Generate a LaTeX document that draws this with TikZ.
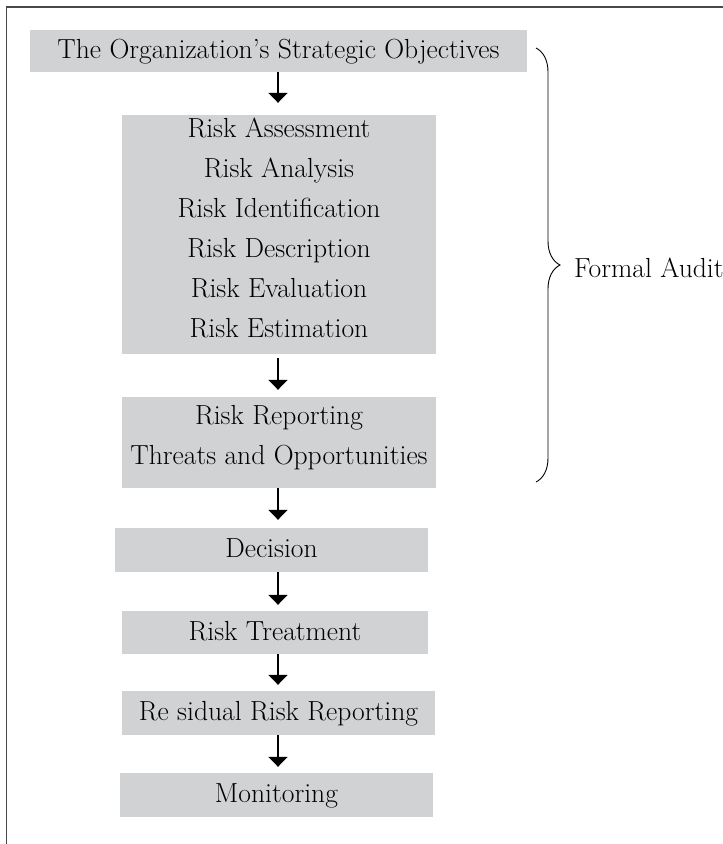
\documentclass[tikz,border=0pt]{standalone}
\usetikzlibrary{arrows.meta,decorations.pathreplacing}
\definecolor{boxgray}{RGB}{209,210,212}
\definecolor{framegray}{RGB}{72,72,72}
\begin{document}
\begin{tikzpicture}[x=1pt,y=-1pt,
  bigfont/.style={font=\fontsize{27.6}{40}\selectfont},
  box/.style={fill=boxgray, inner sep=0pt, align=center, bigfont,
    text height=19pt, text depth=4pt},
  panel/.style={fill=boxgray, inner sep=0pt},
  txt/.style={inner sep=0pt, align=center, bigfont},
  arr/.style={-{Triangle[width=19pt,length=10pt]}, line width=1.8pt},
  lbl/.style={inner sep=0pt, bigfont}
]
\useasboundingbox (0,0) rectangle (723,844);
\draw[framegray, line width=1.5pt] (6.5,900) -- (6.5,7) -- (800,7);

\node[box, minimum width=497pt, minimum height=42pt] (b1) at (278.5,51)
  {The Organization's Strategic Objectives};
\node[panel, minimum width=314pt, minimum height=239pt] (b2) at (279,234.5) {};
\node[txt, anchor=north] (b2t) at (279,117.5)
  {Risk Assessment\\Risk Analysis\\Risk Identification\\Risk Description\\Risk Evaluation\\Risk Estimation};
\node[panel, minimum width=314pt, minimum height=91pt] (b3) at (279,442.5) {};
\node[txt, anchor=north] (b3t) at (279,405)
  {Risk Reporting\\Threats and Opportunities};
\node[box, minimum width=313pt, minimum height=44pt] (b4) at (271.5,550) {Decision};
\node[box, minimum width=306pt, minimum height=43pt] (b5) at (275,632.5) {Risk Treatment};
\node[box, minimum width=313pt, minimum height=44pt] (b6) at (278.5,713) {Re sidual Risk Reporting};
\node[box, minimum width=313pt, minimum height=44pt] (b7) at (276.5,795) {Monitoring};

\coordinate (ax) at (278,0);
\draw[arr, shorten >=12pt] (b1.south -| ax) -- (b2.north -| ax);
\draw[arr, shorten <=4pt, shorten >=7pt] (b2.south -| ax) -- (b3.north -| ax);
\draw[arr, shorten >=8pt] (b3.south -| ax) -- (b4.north -| ax);
\draw[arr, shorten >=6pt] (b4.south -| ax) -- (b5.north -| ax);
\draw[arr, shorten >=6pt] (b5.south -| ax) -- (b6.north -| ax);
\draw[arr, shorten >=6pt] (b6.south -| ax) -- (b7.north -| ax);

\coordinate (bt) at (536,48);
\coordinate (bb) at (536,482);
\draw[decorate, decoration={brace, amplitude=24pt}, line width=0.9pt] (bt) -- (bb);
\node[lbl, anchor=base west] (fa) at (574,277) {Formal Audit};
\end{tikzpicture}
\end{document}
